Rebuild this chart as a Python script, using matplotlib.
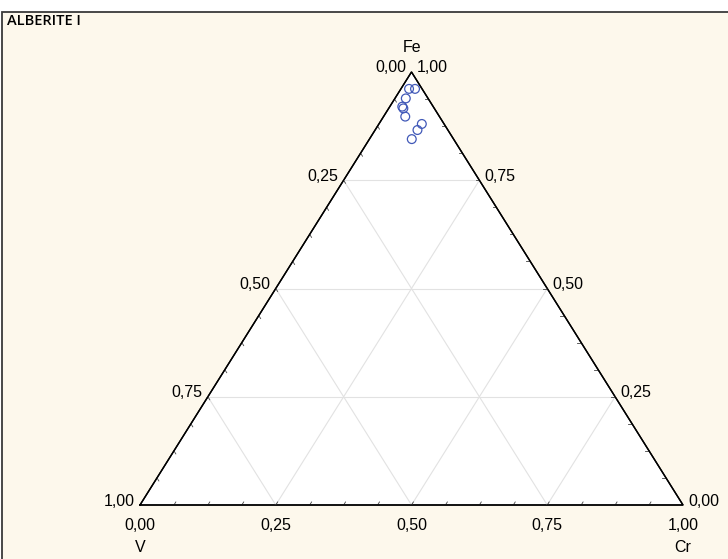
import numpy as np
import matplotlib
matplotlib.use('Agg')
from matplotlib import pyplot as plt
from matplotlib.patches import Polygon, Rectangle

plt.rcParams['font.family'] = ['Liberation Sans', 'DejaVu Sans']

title = 'ALBERITE I'
corner_names = ['V', 'Cr', 'Fe']
tick_vals = [0.0, 0.25, 0.5, 0.75, 1.0]
tick_labels = ['0,00', '0,25', '0,50', '0,75', '1,00']

# compositions (fractions of Fe, Cr, V)
fe = [0.961, 0.961, 0.939, 0.920, 0.916, 0.897, 0.880, 0.866, 0.845]
cr = [0.015, 0.026, 0.020, 0.023, 0.027, 0.040, 0.079, 0.078, 0.078]
v = [0.024, 0.013, 0.041, 0.057, 0.057, 0.063, 0.041, 0.056, 0.077]

H = np.sqrt(3) / 2
cream = '#fdf8ec'
pt_color = '#4159b8'


def tern(c, f):
    # cartesian position from Cr and Fe fractions
    c = np.asarray(c, dtype=float)
    f = np.asarray(f, dtype=float)
    return c + f / 2, f * H


W, Hp = 728, 559
fig = plt.figure(figsize=(W / 100, Hp / 100), dpi=100, facecolor='white')
bg = fig.add_axes([0, 0, 1, 1], zorder=0)
bg.set_xlim(0, W)
bg.set_ylim(Hp, 0)
bg.axis('off')
bg.add_patch(Rectangle((2, 12), W + 10, Hp + 10, facecolor=cream,
                       edgecolor='#3a3a3a', linewidth=1.3))
bg.text(7, 14, title, fontsize=10.5, family=['Open Sans', 'DejaVu Sans'],
        weight='semibold', va='top', ha='left')

left, right, bottom, top = 140, 683, 505, 72
ax = fig.add_axes([left / W, (Hp - bottom) / Hp, (right - left) / W, (bottom - top) / Hp],
                  zorder=2)
ax.set_xlim(0, 1)
ax.set_ylim(0, H)
ax.axis('off')
ax.patch.set_alpha(0)

corners_x, corners_y = tern([0, 1, 0], [0, 0, 1])
ax.add_patch(Polygon(np.column_stack([corners_x, corners_y]), closed=True,
                     facecolor='white', edgecolor='black', linewidth=1.0, zorder=3,
                     clip_on=False))

# grid lines
for g in [0.25, 0.5, 0.75]:
    x, y = tern([0, 1 - g], [g, g])
    ax.plot(x, y, color='#e2e2e2', lw=0.8, zorder=3.5)
    x, y = tern([g, g], [0, 1 - g])
    ax.plot(x, y, color='#e2e2e2', lw=0.8, zorder=3.5)
    x, y = tern([1 - g, 0], [0, 1 - g])
    ax.plot(x, y, color='#e2e2e2', lw=0.8, zorder=3.5)

# small inward ticks every 1/16
tl = 0.007
for k in range(1, 16):
    g = k / 16
    x, y = tern([g, g], [0, tl])
    ax.plot(x, y, color='#444444', lw=0.6, zorder=4, clip_on=False)
    x, y = tern([0, tl], [1 - g, 1 - g - tl])
    ax.plot(x, y, color='#444444', lw=0.6, zorder=4, clip_on=False)
    x, y = tern([1 - g, 1 - g - tl], [g, g])
    ax.plot(x, y, color='#444444', lw=0.6, zorder=4, clip_on=False)

# triangle edges over grid
ax.plot(np.append(corners_x, corners_x[0]), np.append(corners_y, corners_y[0]),
        color='black', lw=1.0, zorder=5, clip_on=False)

fs = 11.5
for val, lab in zip(tick_vals, tick_labels):
    x, y = tern([val], [0])
    ax.annotate(lab, (x[0], y[0]), xytext=(0, -21), textcoords='offset pixels',
                ha='center', va='center', fontsize=fs, annotation_clip=False)
    x, y = tern([0], [1 - val])
    ax.annotate(lab, (x[0], y[0]), xytext=(-5, 4), textcoords='offset pixels',
                ha='right', va='center', fontsize=fs, annotation_clip=False)
    x, y = tern([1 - val], [val])
    ax.annotate(lab, (x[0], y[0]), xytext=(5, 4), textcoords='offset pixels',
                ha='left', va='center', fontsize=fs, annotation_clip=False)

x, y = tern([0, 1, 0], [0, 0, 1])
ax.annotate(corner_names[0], (x[0], y[0]), xytext=(0, -43), textcoords='offset pixels',
            ha='center', va='center', fontsize=fs, annotation_clip=False)
ax.annotate(corner_names[1], (x[1], y[1]), xytext=(0, -43), textcoords='offset pixels',
            ha='center', va='center', fontsize=fs, annotation_clip=False)
ax.annotate(corner_names[2], (x[2], y[2]), xytext=(1, 25), textcoords='offset pixels',
            ha='center', va='center', fontsize=fs, annotation_clip=False)

px, py = tern(cr, fe)
ax.scatter(px, py, s=40, facecolors='none', edgecolors=pt_color, linewidths=0.9,
           zorder=6, clip_on=False)

fig.savefig('out.png', dpi=100, facecolor=fig.get_facecolor())
